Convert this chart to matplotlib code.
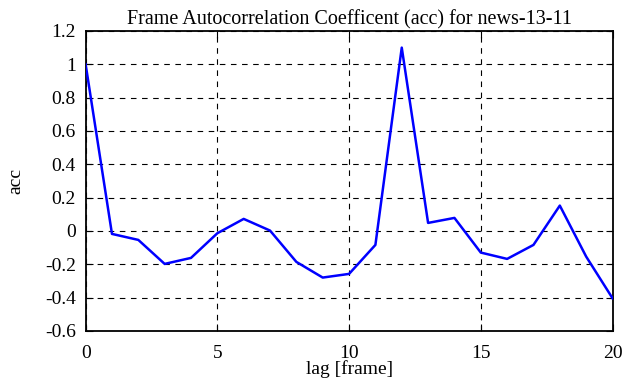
import numpy as np
import matplotlib
matplotlib.use('Agg')
import matplotlib.pyplot as plt

plt.rcParams['font.family'] = ['Liberation Serif', 'DejaVu Serif']

# autocorrelation values per lag
lags = list(range(21))
acc = [1.0, -0.018, -0.054, -0.198, -0.162, -0.014, 0.072, 0.002, -0.186, -0.28,
       -0.258, -0.084, 1.10, 0.048, 0.078, -0.13, -0.168, -0.084, 0.152, -0.154, -0.404]

x_ticks = [0, 5, 10, 15, 20]
y_ticks = [-0.6, -0.4, -0.2, 0, 0.2, 0.4, 0.6, 0.8, 1, 1.2]
y_labels = ['-0.6', '-0.4', '-0.2', '0', '0.2', '0.4', '0.6', '0.8', '1', '1.2']

fig = plt.figure(figsize=(6.25, 3.87), dpi=100)
ax = fig.add_axes([0.137, 0.145, 0.843, 0.775])

ax.plot(lags, acc, color='#0000ff', lw=1.8, zorder=3)

ax.set_xlim(0, 20)
ax.set_ylim(-0.6, 1.2)
ax.set_xticks(x_ticks)
ax.set_yticks(y_ticks)
ax.set_yticklabels(y_labels)
ax.grid(True, color='black', ls=(0, (5, 5)), lw=0.8)
ax.tick_params(direction='in', top=True, right=True, length=5, width=0.8,
               labelsize=14, pad=7)
ax.tick_params(axis='x', pad=10)
for s in ax.spines.values():
    s.set_linewidth(1.3)

ax.set_xlabel('lag [frame]', fontsize=14, labelpad=-1)
ax.set_ylabel('acc', fontsize=14, labelpad=15)
ax.set_title('Frame Autocorrelation Coefficent (acc) for news-13-11', fontsize=14.5, pad=5)

fig.savefig('out.png', dpi=100)
